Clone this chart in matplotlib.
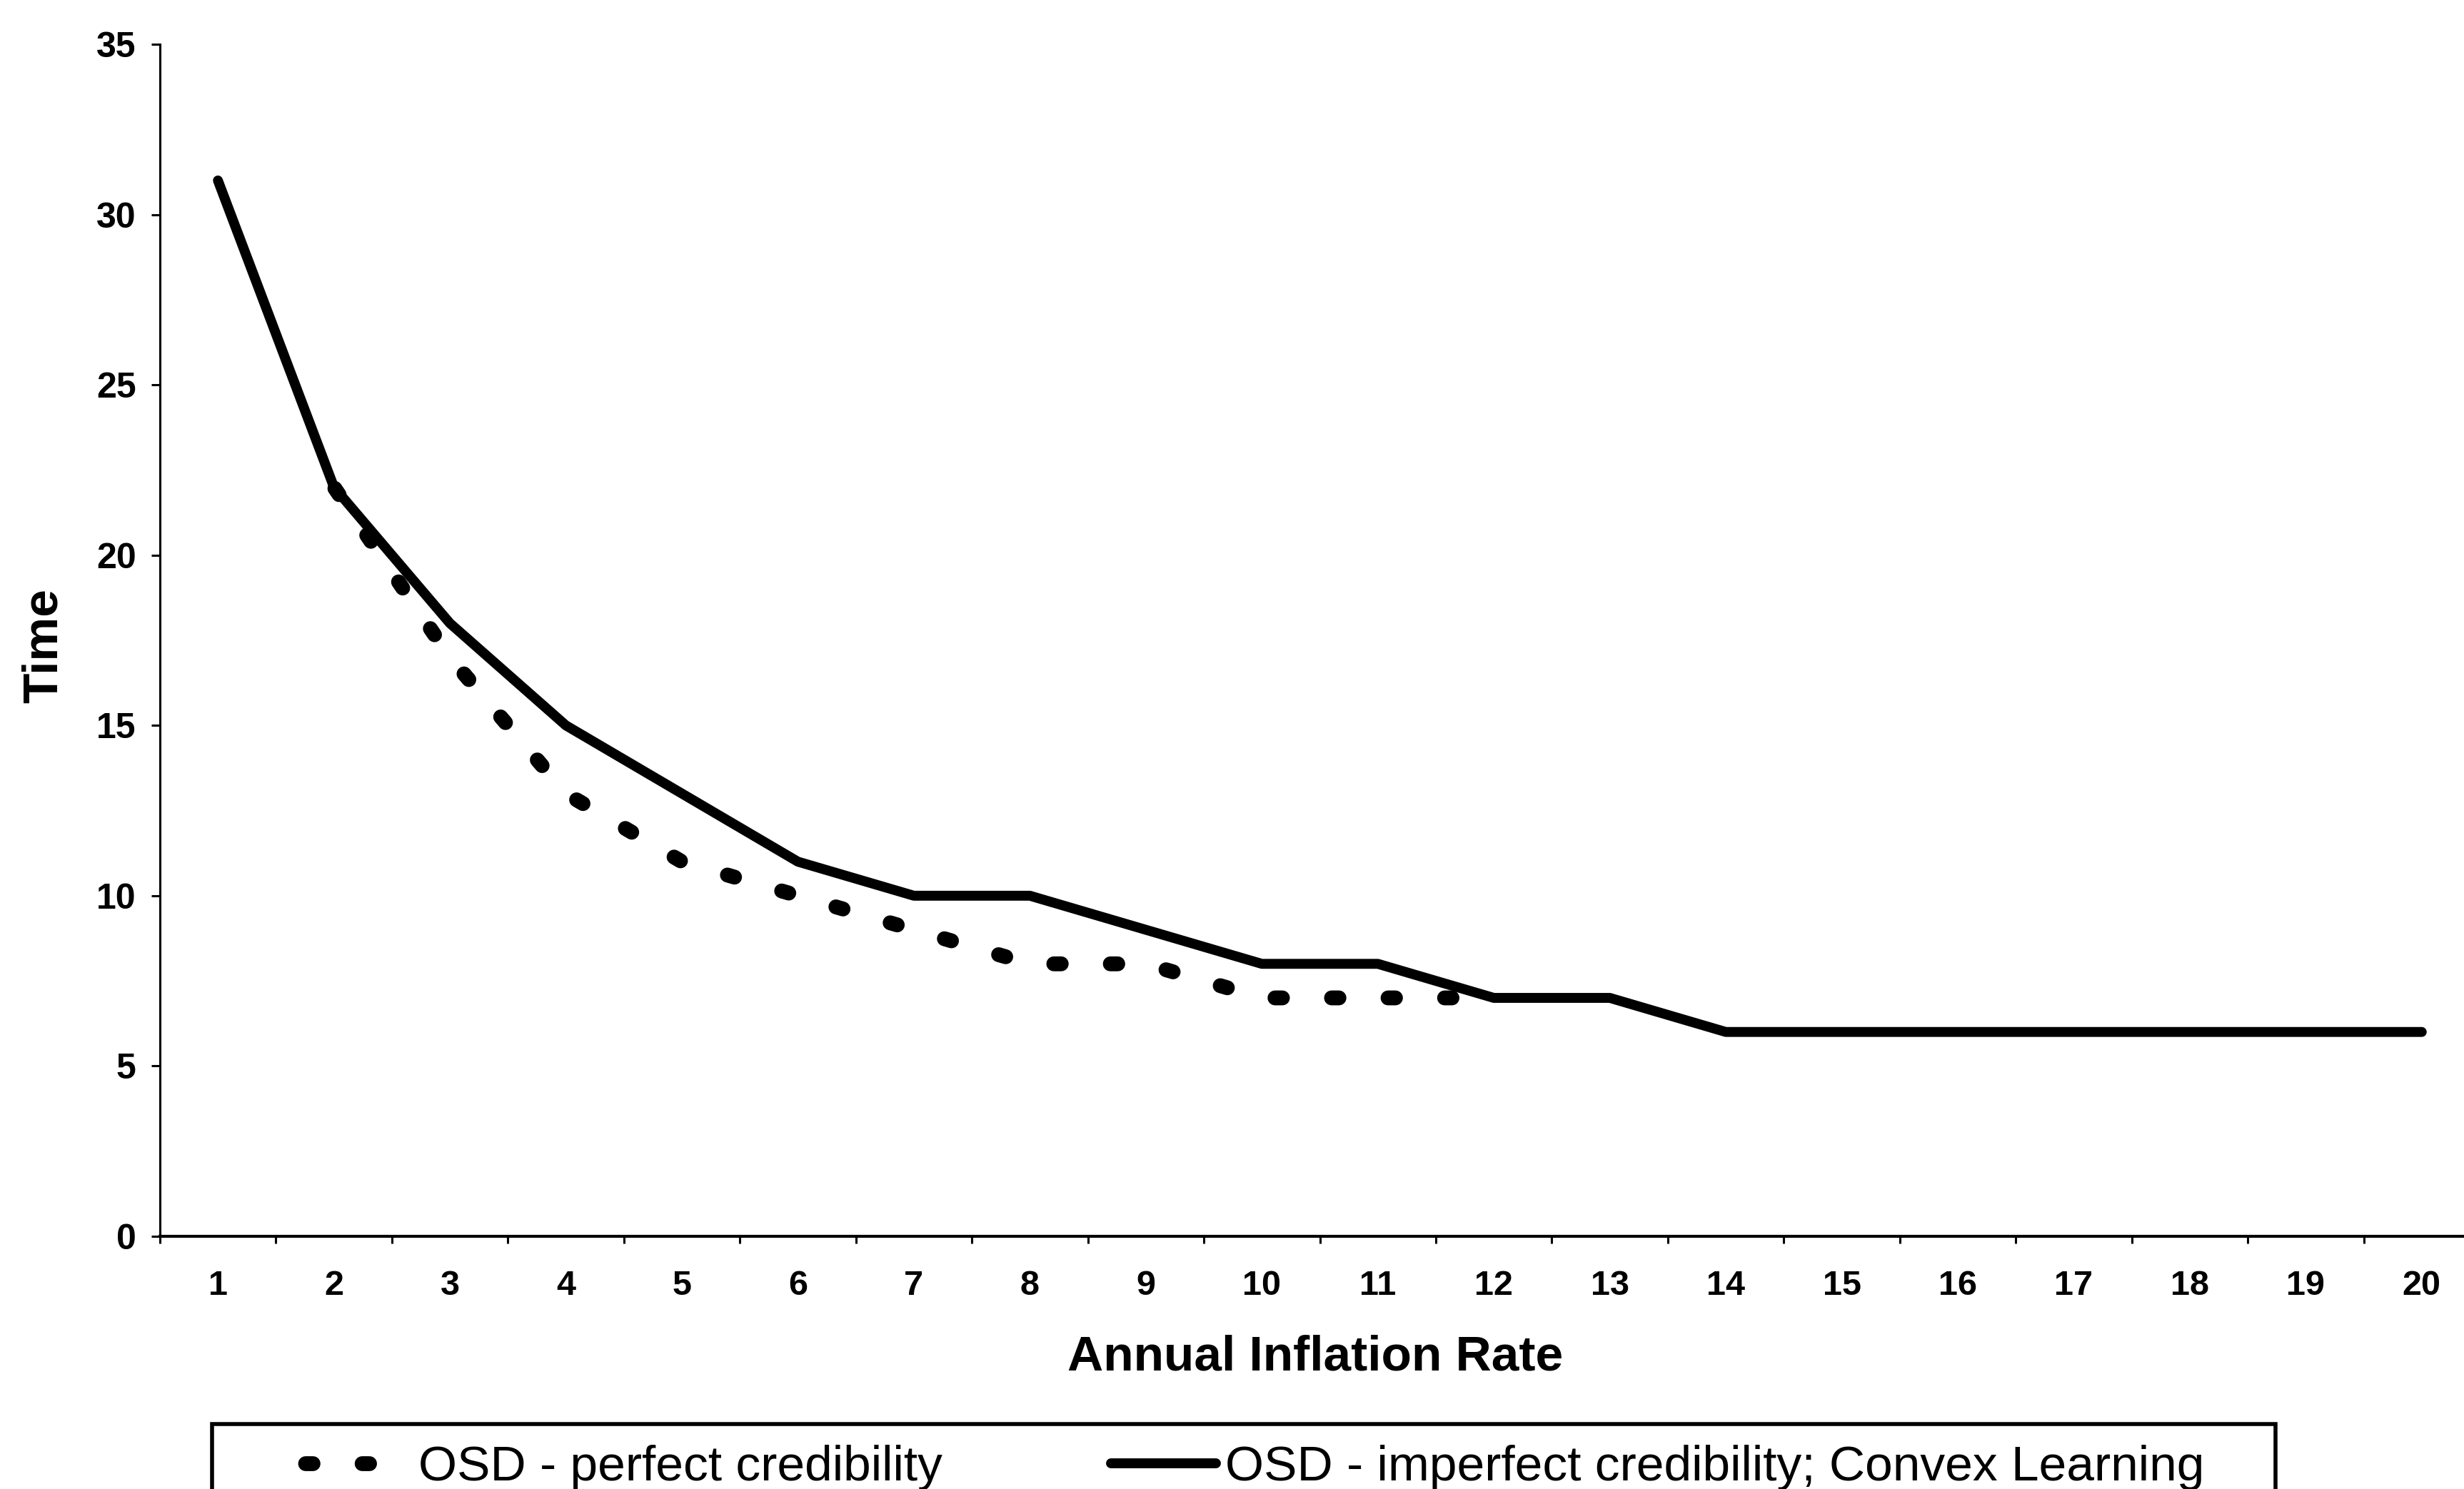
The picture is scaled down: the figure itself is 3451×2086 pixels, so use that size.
import matplotlib
matplotlib.use("Agg")
import matplotlib.pyplot as plt
from matplotlib.patches import Rectangle
from matplotlib.ticker import FixedLocator

# data
inflation = list(range(1, 21))
imperfect = [31, 22, 18, 15, 13, 11, 10, 10, 9, 8, 8, 7, 7, 6, 6, 6, 6, 6, 6, 6]
perfect_x = list(range(2, 13))
perfect = [22, 17, 13, 11, 10, 9, 8, 8, 7, 7, 7]
y_ticks = [0, 5, 10, 15, 20, 25, 30, 35]

plt.rcParams["font.family"] = ["Liberation Sans", "DejaVu Sans"]

fig = plt.figure(figsize=(34.51, 20.86), dpi=100)
ax = fig.add_axes([0.0649, 0.1697, 0.9415, 0.8006])

ax.plot(perfect_x, perfect, color="black", lw=15, linestyle=(3.68, (0.5, 3.3)),
        dash_capstyle="round", label="OSD - perfect credibility")
ax.plot(inflation, imperfect, color="black", lw=10, solid_capstyle="round",
        solid_joinstyle="round", label="OSD - imperfect credibility; Convex Learning")

ax.set_xlim(0.5, 20.5)
ax.set_ylim(0, 35)
for s in ["top", "right"]:
    ax.spines[s].set_visible(False)
ax.spines["left"].set_linewidth(2.2)
ax.spines["bottom"].set_linewidth(3)

ax.set_yticks(y_ticks)
ax.set_xticks(inflation)
# category axis: tick marks sit between the categories
ax.xaxis.set_minor_locator(FixedLocator([i + 0.5 for i in range(0, 21)]))
ax.tick_params(axis="x", which="major", length=0, pad=34, labelsize=35)
ax.tick_params(axis="x", which="minor", length=7, width=2.2, direction="out")
ax.tick_params(axis="y", length=9, width=2.2, pad=15, labelsize=36)
for lab in ax.get_xticklabels() + ax.get_yticklabels():
    lab.set_fontweight("bold")

fig.text(0.5338, 0.0796, "Annual Inflation Rate", ha="center", va="baseline",
         fontsize=50, fontweight="bold")
fig.text(0.0178, 0.5664, "Time", rotation=90, ha="center", va="center",
         fontsize=50, fontweight="bold")

leg = ax.legend(loc="upper left", bbox_to_anchor=(0.1232, 0.0297),
                bbox_transform=fig.transFigure, ncol=2, frameon=False, fontsize=50,
                borderpad=0, handlelength=2.12, handletextpad=0.19,
                columnspacing=3.4, borderaxespad=0)
# legend box runs off the bottom of the page in the original
fig.add_artist(Rectangle((0.0861, -0.05), 0.8374, 0.0936, transform=fig.transFigure,
                         fill=False, edgecolor="black", lw=4))

fig.savefig("out.png", dpi=100)
